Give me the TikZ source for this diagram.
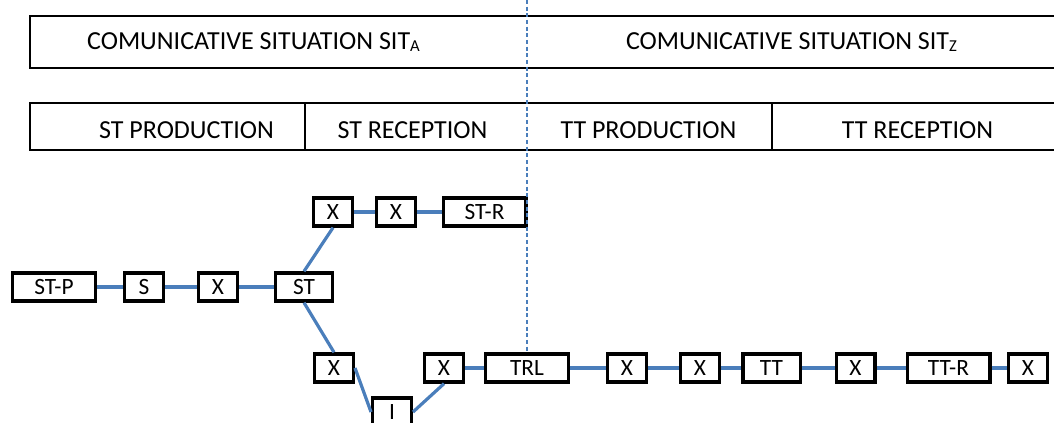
\documentclass[tikz,border=0pt]{standalone}
\usepackage{fontspec}
\setmainfont{Carlito}
\definecolor{linkblue}{HTML}{4A7EBB}
\tikzset{
  stage/.style={draw, line width=2.5pt, fill=white, inner sep=0pt, minimum height=21pt, font=\fontsize{17.5}{20}\selectfont},
  narrow/.style={stage, minimum width=29pt},
  mid/.style={stage, minimum width=43pt},
  wide/.style={stage, minimum width=62pt},
  link/.style={linkblue, line width=2.4pt},
  band/.style={line width=2pt},
  bandtext/.style={inner sep=0pt, font=\fontsize{19.5}{22}\selectfont},
}
\newcommand{\sitsub}[1]{\raisebox{-1pt}{\fontsize{12.5}{14}\selectfont #1}}
\begin{document}
\begin{tikzpicture}[x=0.75pt, y=-0.75pt]
    \useasboundingbox (0,0) rectangle (1054,423);
    % Situations
    \draw[band] (30,16) rectangle (1060,68);
    \node[bandtext] (sita) at (253.5,42) {COMUNICATIVE SITUATION SIT\sitsub{A}};
    \node[bandtext] (sitz) at (791.5,42) {COMUNICATIVE SITUATION SIT\sitsub{Z}};
    % Phases
    \draw[band] (30,103) rectangle (1060,150);
    \draw[band] (305,103) -- (305,150);
    \draw[band] (772,103) -- (772,150);
    \node[bandtext] (stprod) at (186.5,130) {ST PRODUCTION};
    \node[bandtext] (strec) at (412.5,130) {ST RECEPTION};
    \node[bandtext] (ttprod) at (648.5,130) {TT PRODUCTION};
    \node[bandtext] (ttrec) at (917.5,130) {TT RECEPTION};
    % Chain
    \node[wide] (stp) at (54,287) {ST-P};
    \node[narrow] (s) at (144,287) {S};
    \node[narrow] (x1) at (218,287) {X};
    \node[mid] (st) at (304,287) {ST};
    \node[narrow] (xa) at (333,212) {X};
    \node[narrow] (xb) at (396,212) {X};
    \node[wide] (str) at (484.5,212) {ST-R};
    \node[narrow] (xc) at (334,368) {X};
    \node[narrow] (i) at (392,412) {I};
    \node[narrow] (xd) at (444,368) {X};
    \node[wide] (trl) at (527,368) {TRL};
    \node[narrow] (xe) at (627,368) {X};
    \node[narrow] (xf) at (700,368) {X};
    \node[mid] (tt) at (771.5,368) {TT};
    \node[narrow] (xg) at (855.5,368) {X};
    \node[wide] (ttr) at (948.5,368) {TT-R};
    \node[narrow] (xh) at (1028,368) {X};
    \foreach \a/\b in {stp/s, s/x1, x1/st, xa/xb, xb/str, xd/trl, trl/xe, xe/xf, xf/tt, tt/xg, xg/ttr, ttr/xh} {
        \draw[link] (\a) -- (\b);
    }
    \draw[link] (st.north) -- (xa.south);
    \draw[link] (st.south) -- (xc.north);
    \draw[link] (xc.east) -- (i.west);
    \draw[link] (i.east) -- (xd.south);
    % Border between the situations
    \coordinate (dtop) at (527,0);
    \draw[linkblue, line width=0.9pt, dash pattern=on 3pt off 2pt] (dtop) -- (trl.north);
\end{tikzpicture}
\end{document}
